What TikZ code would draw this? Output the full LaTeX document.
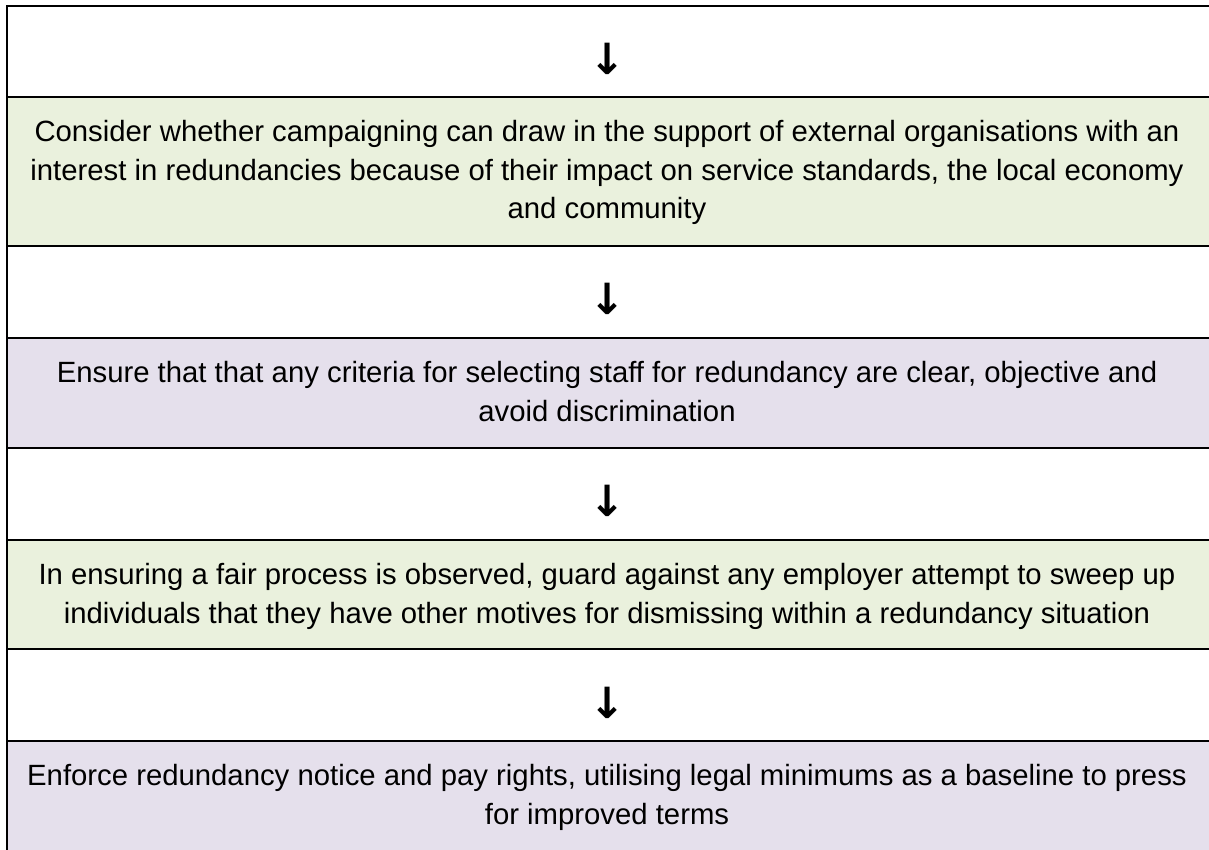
\documentclass[tikz,border=0pt]{standalone}
\usepackage{fontspec}
\setmainfont{Liberation Sans}
\newfontfamily\arrowfont{DejaVu Sans}
\definecolor{cellgreen}{HTML}{EAF1DD}
\definecolor{cellpurple}{HTML}{E5E0EC}
\tikzset{
  rule/.style={line width=2pt, black},
  celltext/.style={anchor=base, inner sep=0pt, font=\fontsize{29.3pt}{38.3pt}\selectfont},
  arrowglyph/.style={anchor=center, inner sep=0pt, font=\arrowfont\bfseries\fontsize{43pt}{46pt}\selectfont},
}
\newcommand{\celltxt}[1]{\parbox[t]{1180pt}{\centering #1}}
\begin{document}
\begin{tikzpicture}[x=1pt,y=-1pt]
\useasboundingbox (0,0) rectangle (1209,849);
\clip (0,0) rectangle (1209,849);
% cell fills
\fill[white] (0,0) rectangle (1209,849);
\fill[cellgreen] (7,97) rectangle (1220,246);
\fill[cellpurple] (7,338) rectangle (1220,448);
\fill[cellgreen] (7,540) rectangle (1220,649);
\fill[cellpurple] (7,741) rectangle (1220,860);
% rules
\foreach \yy in {6,97,246,338,448,540,649,741}{
  \draw[rule] (6,\yy) -- (1220,\yy);
}
\draw[rule] (7,5) -- (7,860);
% arrows
\node[arrowglyph] (a1) at (608,59) {↓};
\node[arrowglyph] (a2) at (608,299) {↓};
\node[arrowglyph] (a3) at (608,501) {↓};
\node[arrowglyph] (a4) at (608,702.5) {↓};
% texts
\node[celltext] (t1) at (607,141.7) {\celltxt{Consider whether campaigning can draw in the support of external organisations with an\\interest in redundancies because of their impact on service standards, the local economy\\and community}};
\node[celltext] (t2) at (607,382.7) {\celltxt{Ensure that that any criteria for selecting staff for redundancy are clear, objective and\\avoid discrimination}};
\node[celltext] (t3) at (607,584.7) {\celltxt{In ensuring a fair process is observed, guard against any employer attempt to sweep up\\individuals that they have other motives for dismissing within a redundancy situation}};
\node[celltext] (t4) at (607,785.7) {\celltxt{Enforce redundancy notice and pay rights, utilising legal minimums as a baseline to press\\for improved terms}};
\end{tikzpicture}
\end{document}
